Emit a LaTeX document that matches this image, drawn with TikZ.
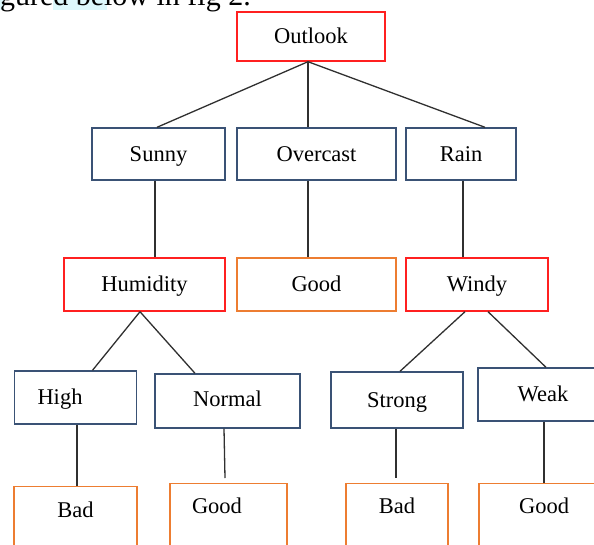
\documentclass[tikz,border=0pt]{standalone}
\usepackage{fontspec}
\setmainfont{Liberation Serif}
\usepackage{tikz}
\usetikzlibrary{shapes,arrows}

\definecolor{redbox}{HTML}{FF2020}
\definecolor{navybox}{HTML}{3A5275}
\definecolor{orangebox}{HTML}{ED7D31}
\definecolor{linegray}{HTML}{303030}
\definecolor{marker}{HTML}{DDF8FC}

\begin{document}
\begin{tikzpicture}[x=1pt, y=-1pt, every node/.style={thick, inner sep=0pt, line width=1.4pt, text height=16.5pt, text depth=2pt, font=\fontsize{22.5}{26}\selectfont}]

% Define styles
\tikzstyle{attribute} = [rectangle, fill=white, draw=redbox]
\tikzstyle{branchval} = [rectangle, fill=white, draw=navybox]
\tikzstyle{outcome} = [rectangle, fill=white, draw=orangebox]
\tikzstyle{result} = [outcome, anchor=north, text depth=45pt]
\tikzstyle{edge} = [draw=linegray, line width=1.3pt]

\useasboundingbox (0,0) rectangle (594,544);

% Cut-off text line above the figure
\fill[marker] (0,-10) rectangle (4,10);
\fill[marker] (53,-10) rectangle (107,10);
\node[anchor=base west, text height=, text depth=, font=\fontsize{30}{34}\selectfont] (caption) at (-19,5) {figured below in fig 2.};

% Nodes
\node[attribute, minimum width=148pt, minimum height=49pt] (outlook) at (311,36.5) {Outlook};

\node[branchval, minimum width=133pt, minimum height=52pt] (sunny) at (158.5,154) {Sunny};
\node[branchval, minimum width=159pt, minimum height=52pt] (overcast) at (316.5,154) {Overcast};
\node[branchval, minimum width=110pt, minimum height=52pt] (rain) at (461,154) {Rain};

\node[attribute, minimum width=161pt, minimum height=53pt] (humidity) at (144.5,284.5) {Humidity};
\node[outcome, minimum width=159pt, minimum height=53pt] (good) at (316.5,284.5) {Good};
\node[attribute, minimum width=142pt, minimum height=53pt] (windy) at (477,284.5) {Windy};

\node[branchval, minimum height=53pt, text width=76pt, inner xsep=23pt, align=left] (high) at (75.5,397.5) {High};
\node[branchval, minimum width=145pt, minimum height=54pt, text depth=5pt] (normal) at (227.5,401) {Normal};
\node[branchval, minimum width=132pt, minimum height=56pt] (strong) at (397,400) {Strong};
\node[branchval, minimum width=130pt, minimum height=53pt] (weak) at (543,394.5) {Weak};

\node[result, minimum width=123pt, text height=31pt] (badhigh) at (75.5,486) {Bad};
\node[result, text width=73pt, inner xsep=22pt, align=left, text height=30pt] (goodnormal) at (228.5,483) {Good};
\node[result, minimum width=102pt, text height=30pt] (badstrong) at (397,483) {Bad};
\node[result, minimum width=130pt, text height=30pt] (goodweak) at (544,483) {Good};

% Connectors
\draw[edge] ([xshift=-3pt]outlook.south) -- ([xshift=-1.5pt]sunny.north);
\draw[edge] ([xshift=-3pt]outlook.south) -- ([xshift=-8.5pt]overcast.north);
\draw[edge] ([xshift=-3pt]outlook.south) -- ([xshift=24pt]rain.north);

\draw[edge] ([xshift=-3.5pt]sunny.south) -- ([xshift=10.5pt]humidity.north);
\draw[edge] ([xshift=-8.5pt]overcast.south) -- ([xshift=-8.5pt]good.north);
\draw[edge] ([xshift=2pt]rain.south) -- ([xshift=-14pt]windy.north);

\draw[edge] ([xshift=-4.5pt]humidity.south) -- ([xshift=17pt]high.north);
\draw[edge] ([xshift=-4.5pt]humidity.south) -- ([xshift=-32.5pt]normal.north);
\draw[edge] ([xshift=-12pt]windy.south) -- ([xshift=3pt]strong.north);
\draw[edge] ([xshift=11pt]windy.south) -- ([xshift=3pt]weak.north);

\draw[edge] ([xshift=1.5pt]high.south) -- ([xshift=1.5pt]badhigh.north);
\draw[edge] ([xshift=-3.5pt]normal.south) -- ([xshift=-3.5pt,yshift=5pt]goodnormal.north);
\draw[edge] ([xshift=-1pt]strong.south) -- ([xshift=-1pt,yshift=5pt]badstrong.north);
\draw[edge] ([xshift=1pt]weak.south) -- (goodweak.north);

\end{tikzpicture}
\end{document}
